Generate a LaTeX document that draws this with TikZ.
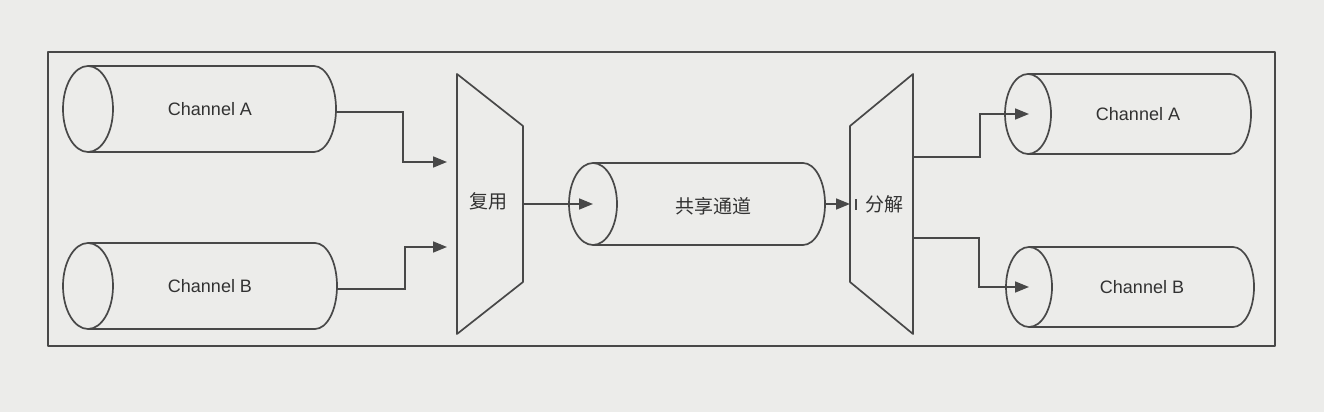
\documentclass[tikz,border=0pt]{standalone}
\usepackage{fontspec}
\setmainfont{Liberation Sans}
\newfontfamily\cjk{Noto Sans CJK SC}
\usetikzlibrary{arrows.meta}
\definecolor{paper}{RGB}{236,236,234}
\definecolor{ink}{RGB}{72,72,72}
\definecolor{txt}{RGB}{50,50,50}
% #1 cx, #2 cy, #3 rx, #4 ry, #5 x where straight sides end, #6 cap x radius
\newcommand\drawcyl[6]{%
  \draw[line] (#1,#2) ellipse [x radius=#3pt, y radius=#4pt];
  \draw[line] (#1,#2+#4) -- (#5,#2+#4)
     arc[start angle=90, end angle=-90, x radius=#6pt, y radius=#4pt] -- (#1,#2-#4);
}
\begin{document}
\begin{tikzpicture}[x=1pt,y=1pt,
  line/.style={draw=ink, line width=1.7pt, line join=round},
  conn/.style={draw=ink, line width=1.7pt, -{Triangle[length=14pt,width=11pt]}},
  lbl/.style={text=txt, font=\fontsize{18}{20}\selectfont, inner sep=0pt},
  cjklbl/.style={text=txt, font=\cjk\fontsize{19}{21}\selectfont, inner sep=0pt}]
\fill[paper] (0,0) rectangle (1324,412);
\useasboundingbox (0,0) rectangle (1324,412);
% outer frame
\draw[line] (48,66) rectangle (1275,360);

% left channels
\drawcyl{88}{303}{25}{43}{314}{22}
\node[lbl] (chAin) at (210,303) {Channel A};
\coordinate (chAinout) at (336,300);
\drawcyl{88}{126}{25}{43}{315}{22}
\node[lbl] (chBin) at (210,126) {Channel B};
\coordinate (chBinout) at (337,123);

% multiplexer
\draw[line] (457,338) -- (523,286) -- (523,130) -- (457,78) -- cycle;
\node[cjklbl] (mux) at (488,211) {复用};
\coordinate (muxinA) at (447,250);
\coordinate (muxinB) at (447,165);
\coordinate (muxout) at (523,208);

% shared channel
\drawcyl{593}{208}{24}{41}{803}{22}
\node[cjklbl] (shared) at (713,206) {共享通道};
\coordinate (sharedin) at (593,208);
\coordinate (sharedout) at (825,208);

% demultiplexer
\draw[line] (850,286) -- (913,338) -- (913,78) -- (850,130) -- cycle;
\node[cjklbl] (demux) at (884,208) {分解};
\coordinate (demuxin) at (850,208);
\coordinate (demuxoutA) at (913,255);
\coordinate (demuxoutB) at (913,174);
\draw[draw=ink, line width=1.2pt] (856,202) -- (856,213);

% right channels
\drawcyl{1028}{298}{23}{40}{1230}{21}
\node[lbl] (chAout) at (1138,298) {Channel A};
\coordinate (chAoutin) at (1029,298);
\drawcyl{1029}{125}{23}{40}{1233}{21}
\node[lbl] (chBout) at (1142,125) {Channel B};
\coordinate (chBoutin) at (1029,125);

% connectors
\draw[conn] (chAinout) -- ++(67,0) |- (muxinA);
\draw[conn] (chBinout) -- ++(68,0) |- (muxinB);
\draw[conn] (muxout) -- (sharedin);
\draw[conn] (sharedout) -- (demuxin);
\draw[conn] (demuxoutA) -- ++(67,0) |- (chAoutin);
\draw[conn] (demuxoutB) -- ++(66,0) |- (chBoutin);
\end{tikzpicture}
\end{document}
